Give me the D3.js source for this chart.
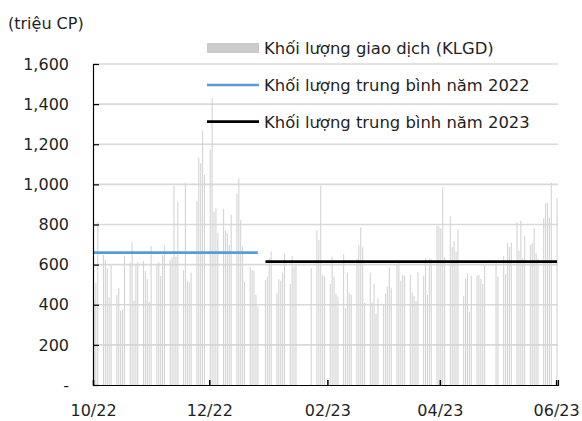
<!DOCTYPE html>
<html>
<head>
<meta charset="utf-8">
<script src="https://cdn.jsdelivr.net/npm/d3@7"></script>
<style>
  html, body { margin: 0; padding: 0; background: #ffffff; }
  svg { display: block; }
  text { font-family: "DejaVu Sans", Verdana, sans-serif; fill: #1f1f1f; }
</style>
</head>
<body>
<svg id="chart" width="582" height="421"></svg>
<script>
// ---- DATA (daily trading volume, million shares) ----
const unitLabel = "(triệu CP)";
const legendLabels = ["Khối lượng giao dịch (KLGD)", "Khối lượng trung bình năm 2022", "Khối lượng trung bình năm 2023"];

const oct2022Days = [5,6,7,10,11,12,13,14,17,18,19,20,21,24,25,26,27,28,31];
const oct2022Vol  = [424,510,813,648,623,583,436,598,449,483,371,375,645,608,710,420,604,612,618];

const nov2022Days = [1,2,3,4,7,8,9,10,11,14,15,16,17,18,21,22,23,24,25,28,29,30];
const nov2022Vol  = [568,528,413,693,604,612,543,648,698,623,637,992,640,914,573,1006,520,512,560,918,1132,1105];

const dec2022Days = [1,2,5,6,7,8,9,12,13,14,15,16,19,20,21,22,23,26,27,28,29,30];
const dec2022Vol  = [1268,1047,1172,1430,864,881,757,878,770,757,698,848,953,1031,823,690,515,587,573,570,449,391];

const jan2023Days = [3,4,5,6,9,10,11,12,13,16,17,18,19,27,30,31];
const jan2023Vol  = [524,540,630,665,457,527,520,560,653,504,643,590,604,582,770,723];

const feb2023Days = [1,2,3,6,7,8,9,10,13,14,15,16,17,20,21,22,23,24,27,28];
const feb2023Vol  = [992,549,540,504,640,540,454,440,652,382,560,457,449,630,698,786,687,410,560,411];

const mar2023Days = [1,2,3,6,7,8,9,10,13,14,15,16,17,20,21,22,23,24,27,28,29,30,31];
const mar2023Vol  = [504,354,432,404,457,490,587,485,598,610,520,549,545,549,460,444,419,562,544,632,449,627,627];

const apr2023Days = [3,4,5,6,7,10,11,12,13,14,17,18,19,20,21,24,25,26,27,28];
const apr2023Vol  = [793,790,781,986,637,840,687,718,665,776,444,532,557,366,545,544,549,529,504,598];

const may2023Days = [4,5,8,9,10,11,12,15,16,17,18,19,22,23,24,25,26,29,30,31];
const may2023Vol  = [607,540,643,554,707,687,710,811,670,818,632,743,698,707,781,657,627,831,906,909];

const jun2023Days = [1,2,5];
const jun2023Vol  = [834,1009,931];

const avgYears  = [2022, 2023];
const avgValues = [660, 615];

const yTicks = [0, 200, 400, 600, 800, 1000, 1200, 1400, 1600];
const xTickDates  = ["2022-10-05", "2022-12-05", "2023-02-05", "2023-04-05", "2023-06-05"];
const xTickLabels = ["10/22", "12/22", "02/23", "04/23", "06/23"];
const xDomain = ["2022-10-05", "2023-06-06"];

// ---- build table ----
const monthTable = [
  [2022, 10, oct2022Days, oct2022Vol],
  [2022, 11, nov2022Days, nov2022Vol],
  [2022, 12, dec2022Days, dec2022Vol],
  [2023, 1, jan2023Days, jan2023Vol],
  [2023, 2, feb2023Days, feb2023Vol],
  [2023, 3, mar2023Days, mar2023Vol],
  [2023, 4, apr2023Days, apr2023Vol],
  [2023, 5, may2023Days, may2023Vol],
  [2023, 6, jun2023Days, jun2023Vol]
];
const data = [];
monthTable.forEach(([yy, mm, days, vols]) => {
  days.forEach((d, i) => data.push({ date: new Date(Date.UTC(yy, mm - 1, d)), value: vols[i] }));
});
const parse = d3.utcParse("%Y-%m-%d");

// ---- layout ----
const svg = d3.select("#chart");
const pL = 93, pR = 558, pT = 64, pB = 385;

const x = d3.scaleUtc().domain(xDomain.map(parse)).range([pL, pR]);
const y = d3.scaleLinear().domain([0, 1600]).range([pB, pT]);
const dayW = x(parse("2022-10-06")) - x(parse("2022-10-05"));
const barW = 1.1;
const center = d => x(d) + dayW / 2;

// gridlines
svg.append("g").selectAll("line").data(yTicks.filter(t => t > 0)).join("line")
  .attr("x1", pL).attr("x2", pR)
  .attr("y1", d => y(d)).attr("y2", d => y(d))
  .attr("stroke", "#d9d9d9").attr("stroke-width", 1.6);

// bars
svg.append("g").selectAll("rect").data(data).join("rect")
  .attr("x", d => center(d.date) - barW / 2)
  .attr("width", barW)
  .attr("y", d => y(d.value))
  .attr("height", d => y(0) - y(d.value))
  .attr("fill", "#d4d4d4");

// average lines
const avgColors = ["#5b9bd5", "#000000"];
avgYears.forEach((yr, i) => {
  const pts = data.filter(d => d.date.getUTCFullYear() === yr);
  const x1 = i === 0 ? pL : center(pts[0].date);
  const x2 = center(pts[pts.length - 1].date);
  svg.append("line")
    .attr("x1", x1).attr("x2", x2)
    .attr("y1", y(avgValues[i])).attr("y2", y(avgValues[i]))
    .attr("stroke", avgColors[i]).attr("stroke-width", 2.7);
});

// y axis
const yAxis = d3.axisLeft(y).tickValues(yTicks).tickSize(-6).tickPadding(0)
  .tickFormat(d => d === 0 ? "-" : d3.format(",")(d));
const gy = svg.append("g").attr("transform", `translate(${pL},0)`).call(yAxis);
gy.select(".domain").attr("stroke", "#000").attr("stroke-width", 1.2);
gy.selectAll(".tick line").attr("stroke", "#000").attr("stroke-width", 1.2);
gy.selectAll(".tick text").attr("x", 69 - pL).attr("font-size", 16)
  .attr("font-family", "DejaVu Sans").attr("fill", "#1f1f1f");

// x axis
const xAxis = d3.axisBottom(x).tickValues(xTickDates.map(parse)).tickSize(-5).tickPadding(0)
  .tickFormat((d, i) => xTickLabels[i]);
const gx = svg.append("g").attr("transform", `translate(0,${pB})`).call(xAxis);
gx.select(".domain").attr("stroke", "#000").attr("stroke-width", 1.2);
gx.selectAll(".tick line").attr("stroke", "#000").attr("stroke-width", 1.5);
gx.selectAll(".tick text").attr("y", 31).attr("dy", 0).attr("font-size", 16)
  .attr("font-family", "DejaVu Sans").attr("fill", "#1f1f1f");

// unit label
svg.append("text").attr("x", 8).attr("y", 29).attr("font-size", 16).text(unitLabel);

// legend
const lgX1 = 207, lgX2 = 259, lgTextX = 264;
const rows = [48, 85, 121.7];
svg.append("rect").attr("x", lgX1).attr("y", rows[0] - 5).attr("width", lgX2 - lgX1).attr("height", 10)
  .attr("fill", "#cccccc");
svg.append("line").attr("x1", lgX1).attr("x2", lgX2).attr("y1", rows[1]).attr("y2", rows[1])
  .attr("stroke", avgColors[0]).attr("stroke-width", 2.7);
svg.append("line").attr("x1", lgX1).attr("x2", lgX2).attr("y1", rows[2]).attr("y2", rows[2])
  .attr("stroke", avgColors[1]).attr("stroke-width", 2.7);
legendLabels.forEach((t, i) => {
  svg.append("text").attr("x", lgTextX).attr("y", rows[i] + 5.9).attr("font-size", 16.4).text(t);
});
</script>
</body>
</html>
